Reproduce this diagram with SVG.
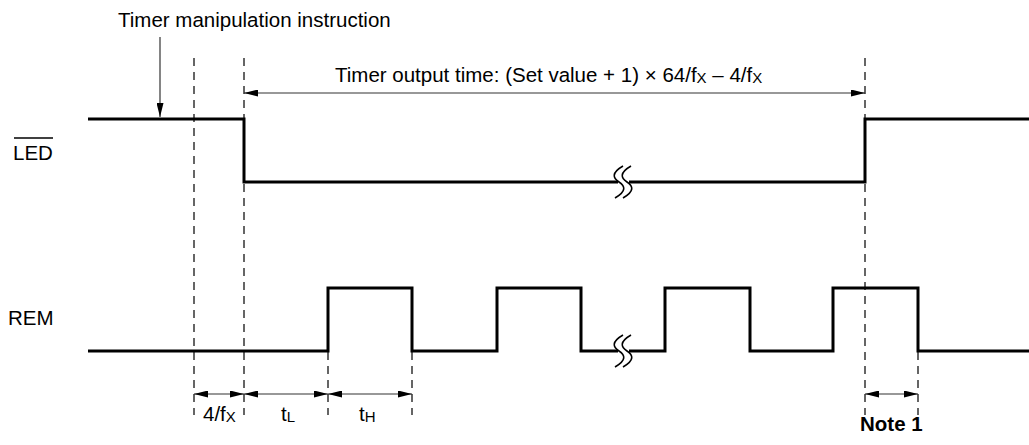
<svg xmlns="http://www.w3.org/2000/svg" width="1029" height="445" viewBox="0 0 1029 445">
<style>
text{font-family:"Liberation Sans",Arial,Helvetica,sans-serif;font-size:20.5px;fill:#000}
.wave{fill:none;stroke:#000;stroke-width:3;stroke-linejoin:miter;stroke-linecap:butt}
.guide{fill:none;stroke:#333;stroke-width:1.5;stroke-dasharray:8 6}
.dim{fill:none;stroke:#333;stroke-width:1.2}
.brk{fill:none;stroke:#000;stroke-width:1.6}
.sub{font-size:15px}
</style>
<defs>
<marker id="ah" viewBox="0 0 14 7" refX="14" refY="3.5" markerWidth="14" markerHeight="7" orient="auto-start-reverse" markerUnits="userSpaceOnUse">
<path d="M0,0 L14,3.5 L0,7 z" fill="#000"/>
</marker>
</defs>
<g id="guides">
<line class="guide" x1="194" y1="58" x2="194" y2="415"/>
<line class="guide" x1="244" y1="58" x2="244" y2="415"/>
<line class="guide" x1="865" y1="58" x2="865" y2="415"/>
<line class="guide" x1="328" y1="352" x2="328" y2="415"/>
<line class="guide" x1="412" y1="352" x2="412" y2="415"/>
<line class="guide" x1="918" y1="352" x2="918" y2="415"/>
</g>
<g id="led-wave">
<path class="wave" d="M88,119 H244 V182 H618"/>
<path class="wave" d="M629,182 H865 V119 H1029"/>
<path class="brk" d="M623,166 C611,173 613,178 619,182 C625,186 627,191 615,198"/>
<path class="brk" d="M631,166 C619,173 621,178 627,182 C633,186 635,191 623,198"/>
</g>
<g id="rem-wave">
<path class="wave" d="M88,351 H328 V288 H412 V351 H497 V288 H581 V351 H618"/>
<path class="wave" d="M629,351 H665 V288 H750 V351 H833 V288 H918 V351 H1029"/>
<path class="brk" d="M623,335 C611,342 613,347 619,351 C625,355 627,360 615,367"/>
<path class="brk" d="M631,335 C619,342 621,347 627,351 C633,355 635,360 623,367"/>
</g>
<g id="connectors">
<line class="dim" x1="160" y1="37" x2="160" y2="117" marker-end="url(#ah)"/>
<line class="dim" x1="244" y1="93" x2="865" y2="93" marker-start="url(#ah)" marker-end="url(#ah)"/>
<line class="dim" x1="194" y1="394" x2="244" y2="394" marker-start="url(#ah)" marker-end="url(#ah)"/>
<line class="dim" x1="244" y1="394" x2="328" y2="394" marker-start="url(#ah)" marker-end="url(#ah)"/>
<line class="dim" x1="328" y1="394" x2="412" y2="394" marker-start="url(#ah)" marker-end="url(#ah)"/>
<line class="dim" x1="865" y1="394" x2="918" y2="394" marker-start="url(#ah)" marker-end="url(#ah)"/>
</g>
<g id="label-instruction">
<text x="118" y="27">Timer manipulation instruction</text>
</g>
<g id="label-output-time">
<text x="335" y="82">Timer output time: (Set value + 1) × 64/f<tspan class="sub" dy="0.5">X</tspan><tspan dy="-0.5"> – 4/f</tspan><tspan class="sub" dy="0.5">X</tspan></text>
</g>
<g id="label-led">
<text x="13" y="160">LED</text>
<line x1="14" y1="138" x2="53" y2="138" stroke="#000" stroke-width="1.5"/>
</g>
<g id="label-rem">
<text x="8" y="325">REM</text>
</g>
<g id="label-4fx">
<text x="203" y="421">4/f<tspan class="sub" dy="0.5">X</tspan></text>
</g>
<g id="label-tl">
<text x="281" y="421">t<tspan class="sub" dy="0.5">L</tspan></text>
</g>
<g id="label-th">
<text x="359" y="421">t<tspan class="sub" dy="0.5">H</tspan></text>
</g>
<g id="label-note1">
<text x="860" y="431" font-weight="bold">Note 1</text>
</g>
</svg>
